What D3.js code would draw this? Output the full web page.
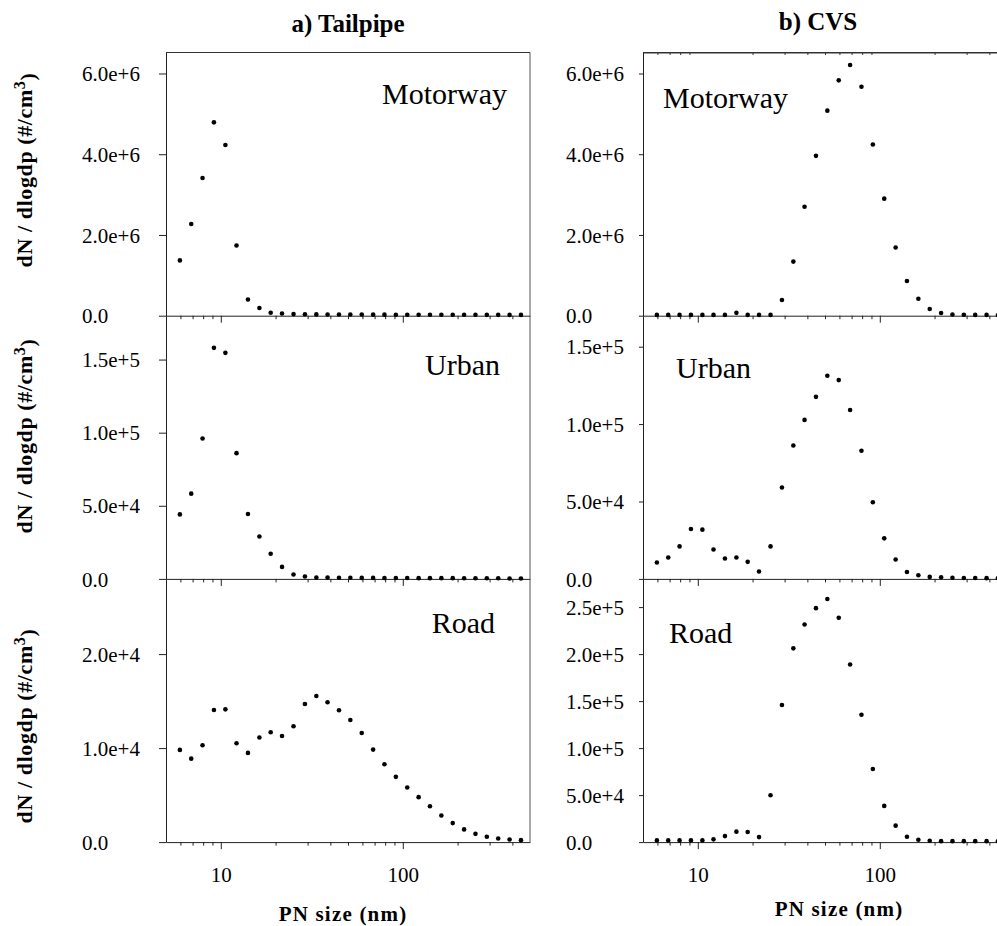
<!DOCTYPE html>
<html>
<head>
<meta charset="utf-8">
<script src="https://cdn.jsdelivr.net/npm/d3@7"></script>
<style>
  body { margin: 0; background: #fff; }
  svg text { font-family: 'Liberation Serif', 'Times New Roman', serif; fill: #000; }
</style>
</head>
<body>
<div id="chart"></div>
<script>
// particle size bins (nm), 16 channels per decade
const diameters = [5.96, 6.88, 7.94, 9.17, 10.6, 12.2, 14.1, 16.3, 18.8, 21.7, 25.1, 29.0, 33.5, 38.6, 44.6,
  51.5, 59.5, 68.7, 79.3, 91.6, 105.8, 122.2, 141.0, 162.9, 188.1, 217.2, 250.8, 289.6, 334.4, 386.2, 446.0];

// dN/dlogdp, #/cm3
const tailpipeMotorway = [1.37e6, 2.27e6, 3.41e6, 4.79e6, 4.23e6, 1.74e6, 0.40e6, 0.19e6, 0.074e6, 0.055e6,
  0.040e6, 0.035e6, 0.032e6, 0.030e6, 0.030e6, 0.028e6, 0.028e6, 0.027e6, 0.026e6, 0.025e6,
  0.025e6, 0.024e6, 0.024e6, 0.023e6, 0.023e6, 0.022e6, 0.022e6, 0.021e6, 0.021e6, 0.020e6, 0.020e6];
const cvsMotorway = [0.02e6, 0.02e6, 0.02e6, 0.02e6, 0.02e6, 0.02e6, 0.02e6, 0.07e6, 0.02e6, 0.02e6, 0.02e6,
  0.39e6, 1.34e6, 2.70e6, 3.96e6, 5.08e6, 5.83e6, 6.21e6, 5.67e6, 4.24e6, 2.90e6,
  1.69e6, 0.86e6, 0.42e6, 0.165e6, 0.066e6, 0.030e6, 0.025e6, 0.020e6, 0.020e6, 0.015e6];
const tailpipeUrban = [44.1e3, 58.3e3, 96.0e3, 158.0e3, 154.6e3, 86.0e3, 44.4e3, 29.0e3, 17.2e3, 8.2e3,
  3.0e3, 1.6e3, 1.0e3, 0.9e3, 0.8e3, 0.8e3, 0.7e3, 0.7e3, 0.6e3, 0.6e3,
  0.6e3, 0.5e3, 0.5e3, 0.5e3, 0.5e3, 0.4e3, 0.4e3, 0.4e3, 0.4e3, 0.3e3, 0.3e3];
const cvsUrban = [10.6e3, 13.8e3, 21.0e3, 32.2e3, 31.8e3, 19.0e3, 13.2e3, 13.8e3, 11.0e3, 4.8e3,
  21.0e3, 59.0e3, 86.2e3, 102.7e3, 117.6e3, 131.2e3, 128.4e3, 109.1e3, 82.8e3, 49.5e3,
  26.2e3, 12.5e3, 4.5e3, 2.4e3, 1.3e3, 1.1e3, 0.7e3, 0.6e3, 0.6e3, 0.5e3, 0.5e3];
const tailpipeRoad = [9.81e3, 8.88e3, 10.30e3, 14.05e3, 14.12e3, 10.51e3, 9.49e3, 11.12e3, 11.68e3, 11.29e3,
  12.32e3, 14.69e3, 15.54e3, 14.87e3, 14.02e3, 12.99e3, 11.61e3, 9.84e3, 8.28e3, 6.94e3,
  5.81e3, 4.78e3, 3.82e3, 2.83e3, 2.02e3, 1.35e3, 0.88e3, 0.57e3, 0.39e3, 0.28e3, 0.21e3];
const cvsRoad = [1.8e3, 1.8e3, 1.8e3, 1.8e3, 1.8e3, 2.9e3, 6.4e3, 11.1e3, 10.7e3, 5.3e3,
  49.9e3, 145.9e3, 206.1e3, 231.5e3, 248.9e3, 258.6e3, 238.6e3, 189.0e3, 135.5e3, 77.7e3,
  38.5e3, 17.5e3, 5.7e3, 2.5e3, 1.4e3, 1.0e3, 1.0e3, 1.0e3, 1.0e3, 1.0e3, 1.0e3];

const columnTitles = ['a) Tailpipe', 'b) CVS'];
const rowLabels = ['Motorway', 'Urban', 'Road'];
const xDomain = [5, 500];
const xMajorTicks = [10, 100];
const xMinorTicks = [6, 7, 8, 9, 20, 30, 40, 50, 60, 70, 80, 90, 200, 300, 400];
const yTicksMotorway = [0, 2e6, 4e6, 6e6];
const yTicksUrban = [0, 5e4, 1e5, 1.5e5];
const yTicksRoadTailpipe = [0, 1e4, 2e4];
const yTicksRoadCvs = [0, 5e4, 1e5, 1.5e5, 2e5, 2.5e5];

// layout
const W = 997, H = 926;
const panelTop = 52.5, rowH = 263.2, colW = 364;
const font = "'Liberation Serif', 'Times New Roman', serif";

const columns = [
  { x0: 166, titleX: 348, titleY: 32, labelX: 82, tickLen: 7, topTicks: false, xTitleX: 343, xTitleY: 921 },
  { x0: 643, titleX: 818, titleY: 30, labelX: 566, tickLen: 4, topTicks: true, xTitleX: 839, xTitleY: 916 },
];
const yTitleCenters = [170, 436, 726];

const panels = [
  { col: 0, row: 0, values: tailpipeMotorway, yMax: 6.52e6, ticks: yTicksMotorway, lx: 507, ly: 104, anchor: 'end' },
  { col: 0, row: 1, values: tailpipeUrban, yMax: 1.8e5, ticks: yTicksUrban, lx: 500, ly: 375, anchor: 'end' },
  { col: 0, row: 2, values: tailpipeRoad, yMax: 2.8e4, ticks: yTicksRoadTailpipe, lx: 495, ly: 633, anchor: 'end' },
  { col: 1, row: 0, values: cvsMotorway, yMax: 6.52e6, ticks: yTicksMotorway, lx: 663, ly: 108, anchor: 'start' },
  { col: 1, row: 1, values: cvsUrban, yMax: 1.7e5, ticks: yTicksUrban, lx: 676, ly: 378, anchor: 'start' },
  { col: 1, row: 2, values: cvsRoad, yMax: 2.8e5, ticks: yTicksRoadCvs, lx: 669, ly: 643, anchor: 'start' },
];

const fmt = (d) => (d === 0 ? '0.0' : d3.format('.1e')(d));

const svg = d3.select('#chart').append('svg')
  .attr('width', W)
  .attr('height', H)
  .style('display', 'block');

panels.forEach((p) => {
  const c = columns[p.col];
  const y0 = panelTop + p.row * rowH;
  const y1 = y0 + rowH;

  const x = d3.scaleLog().domain(xDomain).range([c.x0, c.x0 + colW]);
  const y = d3.scaleLinear().domain([0, p.yMax]).range([y1, y0]);

  const g = svg.append('g').attr('class', `panel r${p.row} c${p.col}`);

  // frame: top and right borders
  if (p.row === 0) {
    g.append('line')
      .attr('x1', c.x0).attr('x2', c.x0 + colW)
      .attr('y1', y0).attr('y2', y0)
      .attr('stroke', '#333');
  }
  g.append('line')
    .attr('x1', c.x0 + colW).attr('x2', c.x0 + colW)
    .attr('y1', y0).attr('y2', y1)
    .attr('stroke', '#555');

  // left axis
  const yAxis = g.append('g')
    .attr('transform', `translate(${c.x0},0)`)
    .call(d3.axisLeft(y).tickValues(p.ticks).tickFormat(fmt).tickSize(c.tickLen).tickSizeOuter(0));
  yAxis.attr('font-family', null);
  yAxis.select('.domain').attr('stroke', '#222');
  yAxis.selectAll('.tick line').attr('stroke', '#222');
  yAxis.selectAll('.tick text')
    .attr('x', c.labelX - c.x0)
    .attr('text-anchor', 'start')
    .attr('dy', '0.34em')
    .style('font-family', font)
    .style('font-size', '21px');

  // bottom axis, minor then major ticks
  const minor = g.append('g')
    .attr('transform', `translate(0,${y1})`)
    .call(d3.axisBottom(x).tickValues(xMinorTicks).tickFormat('').tickSize(3.5).tickSizeOuter(0));
  minor.select('.domain').attr('stroke', '#222');
  minor.selectAll('.tick line').attr('stroke', '#222');

  const major = g.append('g')
    .attr('transform', `translate(0,${y1})`)
    .call(d3.axisBottom(x).tickValues(xMajorTicks).tickSize(7).tickPadding(18).tickSizeOuter(0)
      .tickFormat(p.row === 2 ? d3.format('d') : ''));
  major.attr('font-family', null);
  major.select('.domain').remove();
  major.selectAll('.tick line').attr('stroke', '#222');
  major.selectAll('.tick text')
    .style('font-family', font)
    .style('font-size', '21px');

  if (c.topTicks && p.row === 0) {
    const topAxis = g.append('g')
      .attr('transform', `translate(0,${y0})`)
      .call(d3.axisTop(x).tickValues(xMinorTicks).tickFormat('').tickSize(-2.5).tickSizeOuter(0));
    topAxis.select('.domain').attr('stroke', '#333');
    topAxis.selectAll('.tick line').attr('stroke', '#333');
  }

  // points
  g.append('g')
    .selectAll('circle')
    .data(p.values)
    .join('circle')
    .attr('cx', (d, i) => x(diameters[i]))
    .attr('cy', (d) => y(d))
    .attr('r', 2.3)
    .attr('fill', '#000');

  g.append('text')
    .attr('x', p.lx)
    .attr('y', p.ly)
    .attr('text-anchor', p.anchor)
    .style('font-size', '30px')
    .text(rowLabels[p.row]);
});

// column titles and x-axis titles
columns.forEach((c, i) => {
  svg.append('text')
    .attr('x', c.titleX)
    .attr('y', c.titleY)
    .attr('text-anchor', 'middle')
    .style('font-size', '25px')
    .style('font-weight', 'bold')
    .text(columnTitles[i]);

  svg.append('text')
    .attr('x', c.xTitleX)
    .attr('y', c.xTitleY)
    .attr('text-anchor', 'middle')
    .style('font-size', '21px')
    .style('font-weight', 'bold')
    .style('letter-spacing', '1.2px')
    .text('PN size (nm)');
});

// y-axis titles, one per row
yTitleCenters.forEach((cy) => {
  const t = svg.append('text')
    .attr('transform', `translate(32,${cy}) rotate(-90)`)
    .attr('text-anchor', 'middle')
    .style('font-size', '22px')
    .style('font-weight', 'bold')
    .style('letter-spacing', '0.6px');
  t.append('tspan').text('dN / dlogdp (#/cm');
  t.append('tspan').attr('dy', '-0.45em').style('font-size', '16px').text('3');
  t.append('tspan').attr('dy', '0.45em').text(')');
});
</script>
</body>
</html>
